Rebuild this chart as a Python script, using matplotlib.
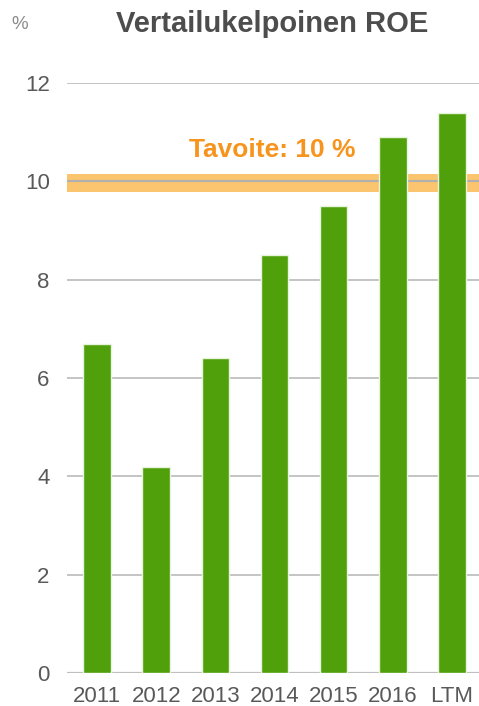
import matplotlib
matplotlib.use("Agg")
import matplotlib.pyplot as plt

categories = ["2011", "2012", "2013", "2014", "2015", "2016", "LTM"]
roe_values = [6.7, 4.2, 6.4, 8.5, 9.5, 10.9, 11.4]
target_value = 10.0
target_band = (9.78, 10.15)
yticks = [0, 2, 4, 6, 8, 10, 12]

plt.rcParams['font.family'] = ['Liberation Sans', 'DejaVu Sans']

fig = plt.figure(figsize=(4.79, 7.06), dpi=100)
ax = fig.add_axes([0.14, 0.0467, 0.86, 0.8357])

ax.set_ylim(0, 12)
ax.set_xlim(-0.51, 6.46)
ax.set_yticks(yticks)
ax.yaxis.grid(True, color="#BFBFBF", linewidth=1.3, zorder=0)
ax.set_axisbelow(True)

ax.axhspan(target_band[0], target_band[1], color="#FBC46E", zorder=1, linewidth=0)
ax.axhline(target_value, color="#B0B0B0", linewidth=1.5, zorder=1.5)

x = range(len(categories))
ax.bar(x, roe_values, width=0.47, color="#50A00C", edgecolor="#E8F3DC",
       linewidth=1.0, zorder=3)

ax.set_xticks(list(x))
ax.set_xticklabels(categories)

for s in ["top", "right", "left", "bottom"]:
    ax.spines[s].set_visible(False)
ax.tick_params(axis="both", length=0, labelsize=16, colors="#595959")
ax.tick_params(axis="y", pad=12.5)
ax.tick_params(axis="x", pad=9)
ax.axhline(0, color="#BFBFBF", linewidth=1.6, zorder=2)

ax.text(2.97, 10.4, "Tavoite: 10 %", color="#F7941D", fontsize=19,
        fontweight="bold", ha="center", va="bottom", zorder=4)

fig.text(0.568, 0.966, "Vertailukelpoinen ROE", color="#4D4D4D", fontsize=21,
         fontweight="bold", ha="center", va="center")
fig.text(0.042, 0.966, "%", color="#8C8C8C", fontsize=13.5, ha="center", va="center")

fig.savefig("out.png", dpi=100)
